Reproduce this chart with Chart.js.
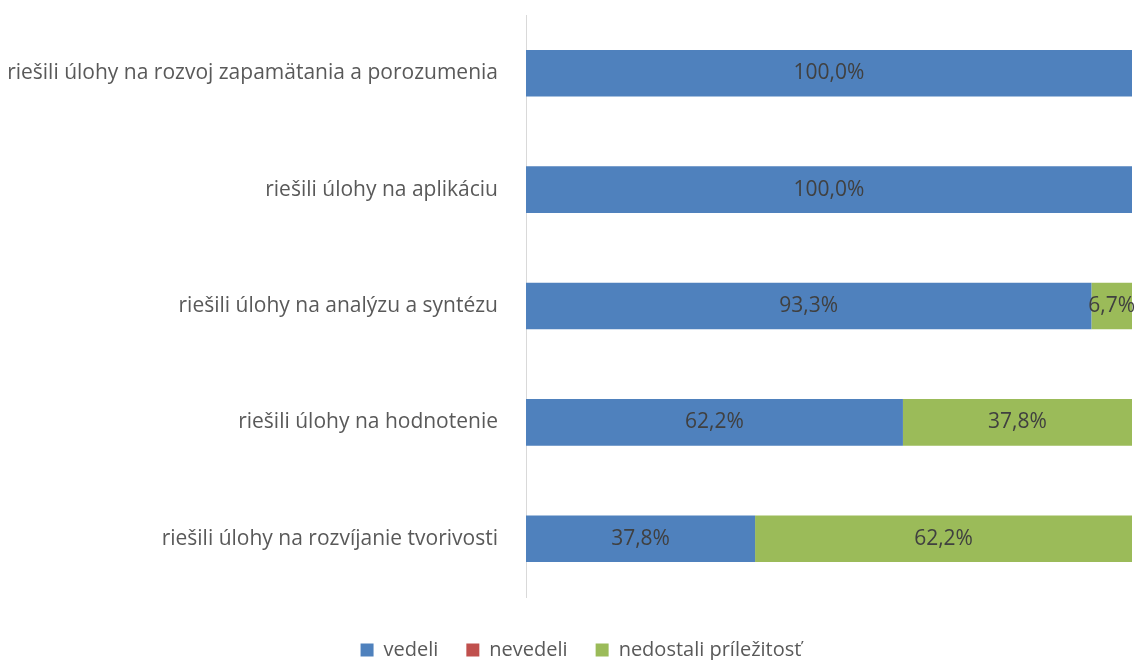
<!DOCTYPE html>
<html>
<head>
<meta charset="utf-8">
<script src="https://cdn.jsdelivr.net/npm/chart.js@4"></script>
<style>
  html, body { margin: 0; padding: 0; background: #fff; }
  #wrap { width: 1137px; height: 660px; }
</style>
</head>
<body>
<div id="wrap"><canvas id="c" width="1137" height="660"></canvas></div>
<script>
// Kategórie a hodnoty (v %) odčítané z grafu
const categories = [
  'riešili úlohy na rozvoj zapamätania a porozumenia',
  'riešili úlohy na aplikáciu',
  'riešili úlohy na analýzu a syntézu',
  'riešili úlohy na hodnotenie',
  'riešili úlohy na rozvíjanie tvorivosti'
];
const vedeli   = [100.0, 100.0, 93.3, 62.2, 37.8];
const nevedeli = [0, 0, 0, 0, 0];
const nedostali = [0, 0, 6.7, 37.8, 62.2];

const FONT = '"Open Sans", Lato, sans-serif';

// Inline plugin: hodnoty v strede každého segmentu (nuly sa nekreslia)
const segLabels = { id: 'segLabels', afterDatasetsDraw(chart) {
  const { ctx } = chart;
  ctx.save();
  ctx.font = '21px ' + FONT;
  ctx.fillStyle = '#404040';
  ctx.textAlign = 'center'; ctx.textBaseline = 'middle';
  chart.data.datasets.forEach((ds, i) => {
    chart.getDatasetMeta(i).data.forEach((bar, j) => {
      const v = ds.data[j];
      if (!v) return;
      const x = (bar.x + bar.base) / 2;
      ctx.fillText(v.toFixed(1).replace('.', ',') + '%', x, bar.y);
    });
  });
  ctx.restore();
}};

// Legenda je v origináli trochu vpravo od stredu plátna
const legendShift = { id: 'legendShift', afterLayout(chart) {
  chart.legend.left += 15;
  chart.legend.right += 15;
}};

new Chart(document.getElementById('c').getContext('2d'), {
  type: 'bar',
  data: {
    labels: categories,
    datasets: [
      { label: 'vedeli', data: vedeli, backgroundColor: '#4f81bd' },
      { label: 'nevedeli', data: nevedeli, backgroundColor: '#c0504d' },
      { label: 'nedostali príležitosť', data: nedostali, backgroundColor: '#9bbb59' }
    ]
  },
  options: {
    indexAxis: 'y',
    responsive: false,
    animation: false,
    datasets: { bar: { barPercentage: 0.8, categoryPercentage: 0.5, borderWidth: 0 } },
    layout: { padding: { left: 0, right: 5, top: 15, bottom: -10 } },
    plugins: {
      legend: {
        position: 'bottom',
        labels: { boxWidth: 13, boxHeight: 13, padding: 28, color: '#595959', font: { family: FONT, size: 20 } }
      },
      tooltip: { enabled: false }
    },
    scales: {
      // os x je skrytá, slúži len ako medzera nad legendou
      x: {
        stacked: true, min: 0, max: 100,
        grid: { display: false }, border: { display: false }, ticks: { display: false },
        afterFit(scale) { scale.height = 15; }
      },
      y: {
        stacked: true,
        grid: { display: false, drawTicks: false },
        border: { color: '#d9d9d9', width: 1 },
        ticks: { color: '#595959', padding: 28, font: { family: FONT, size: 21 } },
        afterFit(scale) { scale.width = 526; scale.paddingTop = 0; scale.paddingBottom = 0; }
      }
    }
  },
  plugins: [segLabels, legendShift]
});
</script>
</body>
</html>
